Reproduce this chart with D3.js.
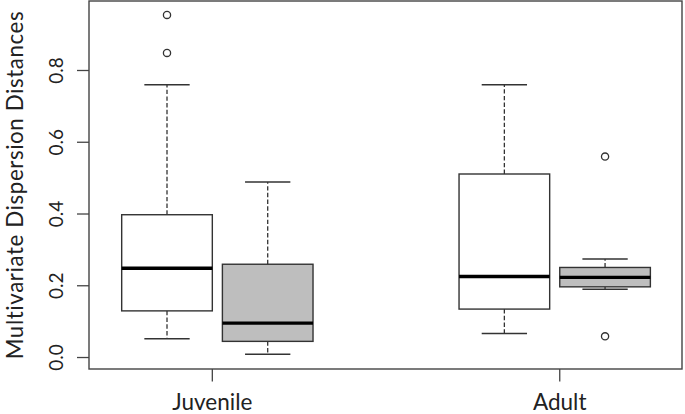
<!DOCTYPE html>
<html>
<head>
<meta charset="utf-8">
<script src="https://cdn.jsdelivr.net/npm/d3@7"></script>
<style>
  html, body { margin: 0; padding: 0; background: #fff; }
  svg { display: block; }
  text { font-family: Lato, "Open Sans", sans-serif; fill: #222; }
</style>
</head>
<body>
<svg id="chart" width="685" height="414"></svg>
<script>
// ---- data ----
const groups = ["Juvenile", "Adult"];
const groupTickPos = [1.45, 4.9];
const boxPositions = [1, 2, 4.35, 5.35];
const boxGroup = ["Juvenile", "Juvenile", "Adult", "Adult"];
const boxFill = ["#ffffff", "#bebebe", "#ffffff", "#bebebe"];
const whiskerLow = [0.052, 0.009, 0.067, 0.190];
const q1 = [0.130, 0.045, 0.135, 0.197];
const median = [0.249, 0.096, 0.226, 0.2235];
const q3 = [0.398, 0.260, 0.5115, 0.251];
const whiskerHigh = [0.760, 0.489, 0.760, 0.2745];
const outliers = [[0.955, 0.849], [], [], [0.560, 0.059]];
const yTicks = [0.0, 0.2, 0.4, 0.6, 0.8];
const yTitle = "Multivariate Dispersion Distances";

// ---- layout ----
const plot = { left: 89, right: 682, top: 1, bottom: 369 };
const svg = d3.select("#chart");

const x = d3.scaleLinear().domain([0.2254, 6.114]).range([plot.left, plot.right]);
const y = d3.scaleLinear().domain([-0.032, 0.9937]).range([plot.bottom, plot.top]);
const boxHalf = 0.45, capHalf = 0.225;
const stroke = "#333";

const boxes = boxPositions.map((p, i) => ({
  p, fill: boxFill[i], lo: whiskerLow[i], q1: q1[i], med: median[i],
  q3: q3[i], hi: whiskerHigh[i], out: outliers[i]
}));

const g = svg.append("g");

boxes.forEach(b => {
  const cx = x(b.p);
  const bg = g.append("g");
  // whiskers (dashed)
  bg.append("line").attr("x1", cx).attr("x2", cx).attr("y1", y(b.q3)).attr("y2", y(b.hi))
    .attr("stroke", stroke).attr("stroke-width", 1.3).attr("stroke-dasharray", "4.4,2.3");
  bg.append("line").attr("x1", cx).attr("x2", cx).attr("y1", y(b.q1)).attr("y2", y(b.lo))
    .attr("stroke", stroke).attr("stroke-width", 1.3).attr("stroke-dasharray", "4.4,2.3");
  // caps
  [b.hi, b.lo].forEach(v => {
    bg.append("line").attr("x1", x(b.p - capHalf)).attr("x2", x(b.p + capHalf))
      .attr("y1", y(v)).attr("y2", y(v)).attr("stroke", stroke).attr("stroke-width", 1.5);
  });
  // box
  bg.append("rect").attr("x", x(b.p - boxHalf)).attr("y", y(b.q3))
    .attr("width", x(b.p + boxHalf) - x(b.p - boxHalf)).attr("height", y(b.q1) - y(b.q3))
    .attr("fill", b.fill).attr("stroke", stroke).attr("stroke-width", 1.4);
  // median
  bg.append("line").attr("x1", x(b.p - boxHalf)).attr("x2", x(b.p + boxHalf))
    .attr("y1", y(b.med)).attr("y2", y(b.med)).attr("stroke", "#000").attr("stroke-width", 3.4);
  // outliers
  b.out.forEach(v => {
    bg.append("circle").attr("cx", cx).attr("cy", y(v)).attr("r", 3.6)
      .attr("fill", "none").attr("stroke", stroke).attr("stroke-width", 1.3);
  });
});

// frame
svg.append("rect").attr("x", plot.left).attr("y", plot.top)
  .attr("width", plot.right - plot.left).attr("height", plot.bottom - plot.top)
  .attr("fill", "none").attr("stroke", "#444").attr("stroke-width", 1.4);

// y axis
const yAxis = svg.append("g");
yTicks.forEach(t => {
  yAxis.append("line").attr("x1", plot.left - 12).attr("x2", plot.left)
    .attr("y1", y(t)).attr("y2", y(t)).attr("stroke", "#444").attr("stroke-width", 1.3);
  yAxis.append("text").attr("transform", `translate(63,${y(t)}) rotate(-90)`)
    .attr("text-anchor", "middle").attr("font-size", 19).text(t.toFixed(1));
});

// x axis
groups.forEach((name, i) => {
  const px = x(groupTickPos[i]);
  svg.append("line").attr("x1", px).attr("x2", px).attr("y1", plot.bottom).attr("y2", plot.bottom + 12.5)
    .attr("stroke", "#444").attr("stroke-width", 1.3);
  svg.append("text").attr("x", px).attr("y", 410).attr("text-anchor", "middle")
    .attr("font-size", 22.5).text(name);
});

// y title
svg.append("text").attr("transform", `translate(22.5,${(plot.top + plot.bottom) / 2}) rotate(-90)`)
  .attr("text-anchor", "middle").attr("font-size", 22.3).attr("letter-spacing", 0.6).text(yTitle);
</script>
</body>
</html>
